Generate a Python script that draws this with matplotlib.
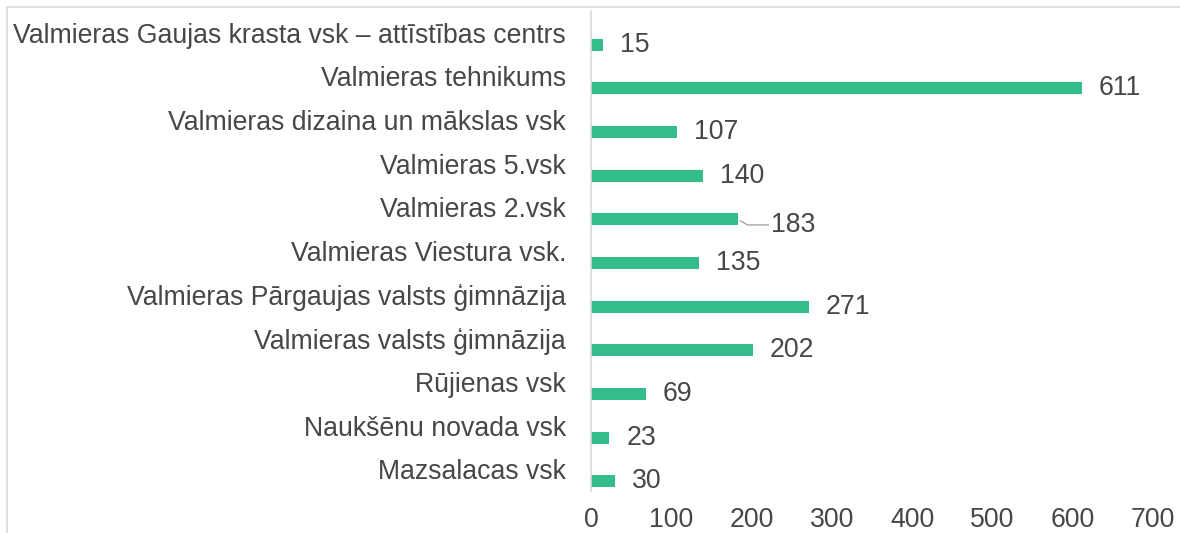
import matplotlib
matplotlib.use("Agg")
import matplotlib.pyplot as plt
from matplotlib.patches import Rectangle

# ——— Datos ———
skolas = [
    "Valmieras Gaujas krasta vsk – attīstības centrs",
    "Valmieras tehnikums",
    "Valmieras dizaina un mākslas vsk",
    "Valmieras 5.vsk",
    "Valmieras 2.vsk",
    "Valmieras Viestura vsk.",
    "Valmieras Pārgaujas valsts ģimnāzija",
    "Valmieras valsts ģimnāzija",
    "Rūjienas vsk",
    "Naukšēnu novada vsk",
    "Mazsalacas vsk",
]
skaits = [15, 611, 107, 140, 183, 135, 271, 202, 69, 23, 30]
x_ticks = [0, 100, 200, 300, 400, 500, 600, 700]

# de abajo hacia arriba
names = skolas[::-1]
vals = skaits[::-1]

GREEN = "#33BD8B"
TEXT = "#474747"
GRID = "#D9D9D9"
FS = 19.2

plt.rcParams['font.family'] = ['Liberation Sans', 'DejaVu Sans']

fig = plt.figure(figsize=(11.8, 5.33), dpi=100)
ax = fig.add_axes([591 / 1180, 42 / 533, (1153 - 591) / 1180, 480 / 533])

# marco del gráfico
fig.patches.append(Rectangle((7 / 1180, -0.1), 1.2, 1.1 - 7 / 533,
                             transform=fig.transFigure, fill=False,
                             edgecolor=GRID, linewidth=1.2))

pos = list(range(len(names)))
off = 0.275  # barra desplazada hacia abajo dentro de la banda
ax.barh([p - off for p in pos], vals, height=0.275, color=GREEN)

for p, v in zip(pos, vals):
    if v == 183:
        ax.annotate(str(v), xy=(v, p - off), xytext=(24, -4),
                    textcoords="offset points", ha="left", va="center",
                    fontsize=FS, color=TEXT,
                    arrowprops=dict(arrowstyle="-", color="#A6A6A6", lw=1,
                                    shrinkA=0, shrinkB=2, relpos=(0, 0.5),
                                    connectionstyle="angle,angleA=0,angleB=-30,rad=0"))
    else:
        ax.annotate(str(v), xy=(v, p - off), xytext=(12, 0),
                    textcoords="offset points", ha="left", va="center",
                    fontsize=FS, color=TEXT)

ax.set_xlim(0, 700)
ax.set_ylim(-0.5, len(names) - 0.5)
ax.set_xticks(x_ticks)
ax.set_xticklabels([str(t) for t in x_ticks])
ax.set_yticks(pos)
ax.set_yticklabels(names)
ax.tick_params(axis="both", length=0, labelsize=FS, labelcolor=TEXT)
ax.tick_params(axis="y", pad=18)
ax.tick_params(axis="x", pad=11.5)

for s in ["top", "right", "bottom"]:
    ax.spines[s].set_visible(False)
ax.spines["left"].set_color(GRID)
ax.spines["left"].set_linewidth(1.2)

fig.savefig("out.png", dpi=100)
